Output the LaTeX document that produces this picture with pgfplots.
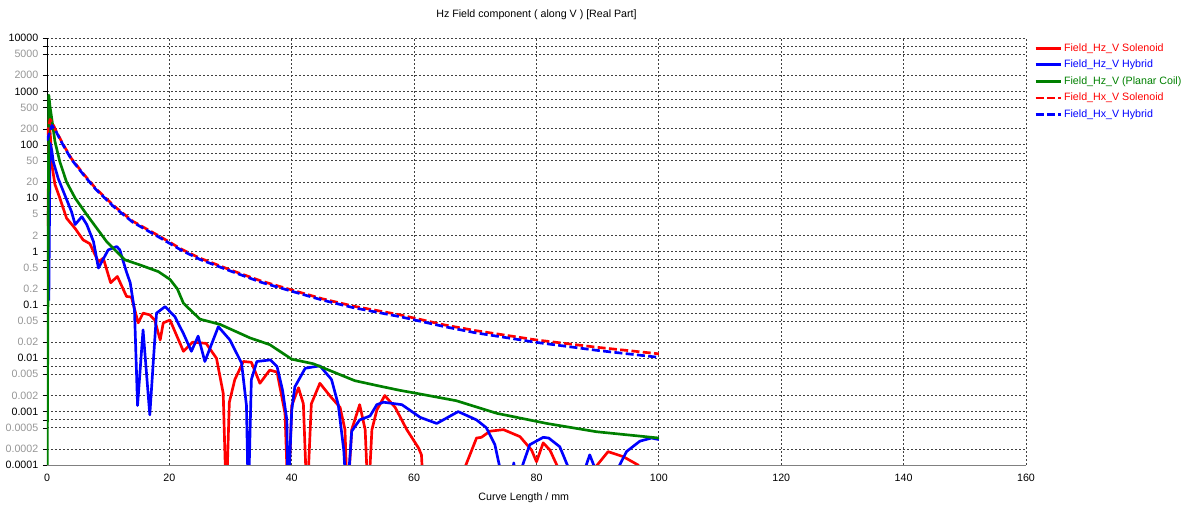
\documentclass[border=0pt]{standalone}
\usepackage{fontspec}
\setmainfont{Liberation Sans}
\usepackage{pgfplots}
\pgfplotsset{compat=1.18}

\definecolor{hzred}{RGB}{255,0,0}
\definecolor{hzblue}{RGB}{0,0,255}
\definecolor{hzgreen}{RGB}{0,128,0}
\definecolor{lbl}{RGB}{150,150,150}
\newcommand{\g}[1]{\textcolor{lbl}{#1}}

\begin{document}
\begin{tikzpicture}
\useasboundingbox (-35.25pt,-30.75pt) rectangle (854.25pt,348.75pt);
\begin{axis}[
  scale only axis, width=734.25pt, height=320.25pt,
  at={(0,0)}, anchor=south west,
  xmin=0, xmax=160, ymode=log, ymin=1e-4, ymax=1e4,
  axis x line*=bottom, axis y line*=left,
  x axis line style={gray, -}, y axis line style={black, -},
  xtick={0,20,...,160}, xticklabels={0,20,40,60,80,100,120,140,160},
  ytick={1e-4,2e-4,5e-4,7e-4,1e-3,2e-3,5e-3,7e-3,1e-2,2e-2,5e-2,7e-2,1e-1,2e-1,5e-1,7e-1,
         1,2,5,7,10,20,50,70,100,200,500,700,1000,2000,5000,7000,10000},
  yticklabels={0.0001,\g{0.0002},\g{0.0005},,0.001,\g{0.002},\g{0.005},,0.01,\g{0.02},\g{0.05},,
               0.1,\g{0.2},\g{0.5},,1,\g{2},\g{5},,10,\g{20},\g{50},,100,\g{200},\g{500},,
               1000,\g{2000},\g{5000},,10000},
  tick label style={font=\fontsize{8}{9}\selectfont},
  tick align=outside, major tick length=3pt, tick style={black},
  xtick style={draw=none},
  grid=major,
  major grid style={black!75, line width=0.6pt, dash pattern=on 1.5pt off 1.5pt},
  title={Hz Field component ( along V ) [Real Part]},
  title style={font=\fontsize{8}{9}\selectfont, at={(0.5,1)}, anchor=base, yshift=9.5pt},
  xlabel={Curve Length / mm},
  xlabel style={font=\fontsize{8}{9}\selectfont, at={(0.487,0)}, anchor=base, yshift=-27pt},
  clip=true,
  every axis plot/.append style={line width=2pt, line join=round, no markers},
  legend style={at={(1,1)}, anchor=north west, xshift=6pt, yshift=-2.75pt,
    draw=none, fill=none, inner sep=0pt, row sep=2.9pt,
    font=\fontsize{8}{9}\selectfont,
    nodes={inner sep=1pt, text height=6pt, text depth=1.5pt, anchor=west}},
  legend cell align=left,
  legend image code/.code={\draw[#1, line width=2pt] (0cm,0cm) -- (0.68cm,0cm);},
]
% Field_Hz_V Solenoid
\addplot[hzred] coordinates {
 (0.15,3) (0.35,340) (0.6,120) (0.8,42) (1.3,18) (2.1,10) (3.2,4.2) (4.6,2.7)
 (5.9,1.65) (7.0,1.4) (8.4,0.64) (9.2,0.75) (10.4,0.26) (11.5,0.34) (13,0.144)
 (13.8,0.14) (14.9,0.046) (15.7,0.07) (16.8,0.065) (17.6,0.052) (18.5,0.022)
 (19,0.046) (20.1,0.052) (22.3,0.0135) (23.8,0.02) (26,0.019) (27.7,0.01)
 (28.8,0.0022) (29.3,2e-5) (29.8,0.0015) (30.7,0.004) (32.1,0.0087) (33.4,0.0084)
 (34.8,0.0034) (36.4,0.006) (37.6,0.0055) (38.9,0.00093) (39.4,2e-5) (40,0.0013)
 (41.1,0.0028) (41.9,0.0014) (42.5,2e-5) (43.2,0.0014) (44.6,0.0034) (46.2,0.002)
 (47.9,0.0012) (48.7,0.00046) (49.1,2e-5) (49.8,0.00046) (51.1,0.00135) (52,0.00046)
 (52.5,2e-5) (53.1,0.00046) (53.9,0.00107) (55.2,0.002) (56.9,0.0012) (58.8,0.00046)
 (60.7,0.00021) (61.2,0.000155) (61.6,2e-5) (65,1e-5) (68.3,9e-5) (70.2,0.00032)
 (71,0.00033) (72.4,0.00043) (74.6,0.00046) (77.3,0.00034) (79.2,0.00019)
 (80,0.000115) (81.1,0.00026) (82.2,0.00019) (83.5,9e-5) (86,1e-5) (89.6,9e-5)
 (91.7,0.000178) (94.2,0.000143) (96.6,0.0001) (98,5e-5) (100,2e-5)};
% Field_Hz_V Hybrid
\addplot[hzblue] coordinates {
 (0.3,0.12) (0.5,107) (0.77,80) (1.03,48) (1.85,23) (2.9,11.5) (4.0,5.6) (4.6,3.2)
 (5.7,4.5) (6.5,3.2) (7.6,1.53) (8.4,0.49) (10,1.07) (11.4,1.24) (11.9,1.07)
 (13,0.41) (13.6,0.26) (14.3,0.08) (14.8,0.0013) (15.7,0.034) (16.8,0.00087)
 (17.9,0.07) (19.3,0.093) (20.9,0.06) (22.3,0.029) (23.6,0.0135) (24.7,0.026)
 (25.8,0.0087) (28,0.039) (29.9,0.022) (31.8,0.0081) (32.6,0.0013) (32.9,2e-5)
 (33.4,0.004) (34.3,0.0087) (36.5,0.0093) (37.6,0.007) (38.5,0.0025) (39.2,0.0007)
 (39.4,2e-5) (40,0.00107) (40.5,0.0029) (42.2,0.0065) (44.6,0.0072) (46.5,0.004)
 (47.6,0.00135) (48.5,0.00019) (49,2e-5) (49.8,0.00043) (51.1,0.0007) (52.8,0.00083)
 (53.9,0.00135) (55,0.0015) (58,0.00135) (61,0.00078) (63.7,0.0006) (67.2,0.001)
 (70.2,0.0007) (71.8,0.0005) (73.2,0.00024) (74,9e-5) (75.5,3e-5) (76.3,1.1e-4)
 (76.7,1e-5) (77.6,9e-5) (78.9,0.00024) (81.1,0.00033) (82,0.00032) (83.8,0.00022)
 (85.2,9e-5) (86.5,1e-5) (88,9e-5) (88.7,0.000155) (89.5,9e-5) (91,1e-5)
 (93.4,9e-5) (94.7,0.000178) (96.9,0.00028) (98.8,0.00032) (100,0.0003)};
% Field_Hz_V (Planar Coil)
\addplot[hzgreen] coordinates {
 (0,1e-5) (0.3,850) (0.5,510) (0.77,315) (1.3,115) (2.1,48) (3.2,20) (4.6,10)
 (6.5,4.9) (9.75,1.53) (12.7,0.7) (15.2,0.56) (18.2,0.42) (20.1,0.3) (21.3,0.2)
 (22.3,0.107) (25,0.054) (28.3,0.043) (33.2,0.024) (36.4,0.018) (40,0.0096)
 (43.5,0.0079) (50.3,0.0038) (54.4,0.003) (57.7,0.0025) (60.4,0.0022) (66.9,0.0016)
 (73.5,0.00093) (81.7,0.0006) (89.8,0.00042) (100,0.00032)};
% Field_Hx_V Solenoid
\addplot[hzred, dash pattern=on 6pt off 2.5pt] coordinates {
 (0,150) (0.5,300) (1,240) (1.5,180) (2,140) (2.67,100) (4,55) (5.9,29) (8,15)
 (11.1,6.9) (14,3.7) (18.5,1.9) (22,1.1) (25,0.75) (30,0.45) (35,0.28) (40,0.19)
 (45,0.13) (50,0.095) (57.7,0.065) (65,0.042) (70,0.033) (80,0.022) (90,0.016)
 (100,0.0121)};
% Field_Hx_V Hybrid
\addplot[hzblue, dash pattern=on 6pt off 2.5pt] coordinates {
 (0,120) (0.8,230) (1.5,175) (2,135) (2.67,97) (4,53) (5.9,28) (8,14.5) (11.1,6.6)
 (14,3.55) (18.5,1.8) (22,1.05) (25,0.71) (30,0.43) (35,0.265) (40,0.18) (45,0.123)
 (50,0.089) (57.7,0.06) (65,0.039) (70,0.03) (80,0.0198) (90,0.014) (100,0.0104)};
\legend{{\color{hzred}Field\_Hz\_V Solenoid},{\color{hzblue}Field\_Hz\_V Hybrid},
  {\color{hzgreen}Field\_Hz\_V (Planar Coil)},{\color{hzred}Field\_Hx\_V Solenoid},
  {\color{hzblue}Field\_Hx\_V Hybrid}}
\end{axis}
\end{tikzpicture}
\end{document}
